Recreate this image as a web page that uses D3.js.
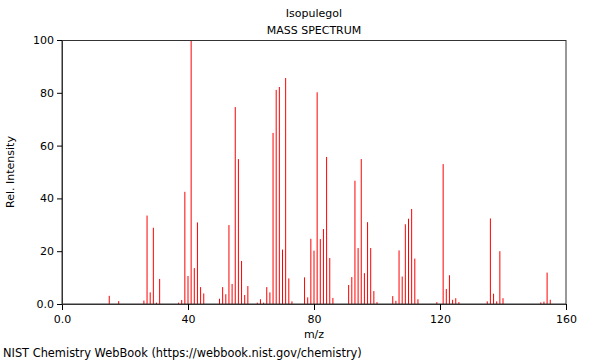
<!DOCTYPE html>
<html><head><meta charset="utf-8">
<script src="https://cdn.jsdelivr.net/npm/d3@7"></script>
<style>body{margin:0;background:#fff;} text{font-family:"DejaVu Sans",sans-serif;}</style>
</head><body>
<svg id="c" width="600" height="360"></svg>
<script>
const mz = [15,18,26,27,28,29,30,31,37,38,39,40,41,42,43,44,45,50,51,52,53,54,55,56,57,58,59,62,63,64,65,66,67,68,69,70,71,72,73,77,78,79,80,81,82,83,84,85,86,91,92,93,94,95,96,97,98,99,100,105,106,107,108,109,110,111,112,113,119,121,122,123,124,125,126,135,136,137,138,139,140,152,153,154,155];
const intensity = [3.1,1.1,1.3,33.5,4.4,28.9,0.5,9.5,0.5,1.5,42.5,10.6,100,13.6,30.9,6.4,4,2,6.4,3.7,29.9,7.6,74.6,54.9,16.3,3.4,6.8,0.5,1.8,0.5,6.4,4.4,64.8,81.1,82.2,20.6,85.6,9.7,1,10.1,2.5,24.7,20.2,80.2,24.6,28.4,55.7,17.4,2.3,7.2,10.2,46.7,21.2,54.9,11.7,31,21.2,4.9,0.7,3,1.2,20.3,10.4,30.2,32.3,36,17.2,1.8,0.7,53,5.7,10.9,1.6,2.2,0.7,1,32.4,3.9,1,20,2.2,0.6,0.9,11.9,1.6];
const xMajor = [0,40,80,120,160];
const yMajor = [0,20,40,60,80,100];
const title = "Isopulegol", subtitle = "MASS SPECTRUM";
const xLabel = "m/z", yLabel = "Rel. Intensity";
const footer = "NIST Chemistry WebBook (https://webbook.nist.gov/chemistry)";

const svg = d3.select("#c");
const L=62, R=566, T=40, B=304;
const x = d3.scaleLinear().domain([0,160]).range([L,R]);
const y = d3.scaleLinear().domain([0,100]).range([B,T]);
const fmt = d => d===0 ? "0.0" : String(d);

// bars
svg.append("g").selectAll("line").data(mz.map((m,i)=>({m, v:intensity[i]})))
  .join("line")
  .attr("x1", d=>x(d.m)).attr("x2", d=>x(d.m))
  .attr("y1", y(0)).attr("y2", d=>y(d.v))
  .attr("stroke", "#ff0000").attr("stroke-width", 1);

// frame
svg.append("rect").attr("x",L).attr("y",T+0.5).attr("width",R-L).attr("height",B-T-0.5)
  .attr("fill","none").attr("stroke","#333").attr("stroke-width",1);

// x axis
const gx = svg.append("g").attr("transform",`translate(0,${B})`);
gx.call(d3.axisBottom(x).tickValues(d3.range(0,161,10)).tickSize(3).tickFormat(""));
gx.call(d3.axisBottom(x).tickValues(xMajor).tickSize(6).tickPadding(5).tickFormat(fmt));
gx.selectAll(".domain").attr("stroke","#333");
gx.selectAll("text").attr("font-size",11).attr("fill","#000").style("font-family","DejaVu Sans");

// y axis
const gy = svg.append("g").attr("transform",`translate(${L},0)`);
gy.call(d3.axisLeft(y).tickValues(d3.range(0,101,5)).tickSize(3).tickFormat(""));
gy.call(d3.axisLeft(y).tickValues(yMajor).tickSize(5).tickPadding(3).tickFormat(fmt));
gy.selectAll(".domain").attr("stroke","#333");
gy.selectAll("text").attr("font-size",11).attr("fill","#000").style("font-family","DejaVu Sans");

// texts
svg.append("text").attr("x",314).attr("y",17).attr("text-anchor","middle").attr("font-size",11).text(title);
svg.append("text").attr("x",314).attr("y",34).attr("text-anchor","middle").attr("font-size",11).text(subtitle);
svg.append("text").attr("x",314).attr("y",338).attr("text-anchor","middle").attr("font-size",11).text(xLabel);
svg.append("text").attr("transform","translate(14,172) rotate(-90)").attr("text-anchor","middle").attr("font-size",11).text(yLabel);
svg.append("text").attr("x",3).attr("y",357).attr("font-size",11.4).text(footer);
</script>
</body></html>
